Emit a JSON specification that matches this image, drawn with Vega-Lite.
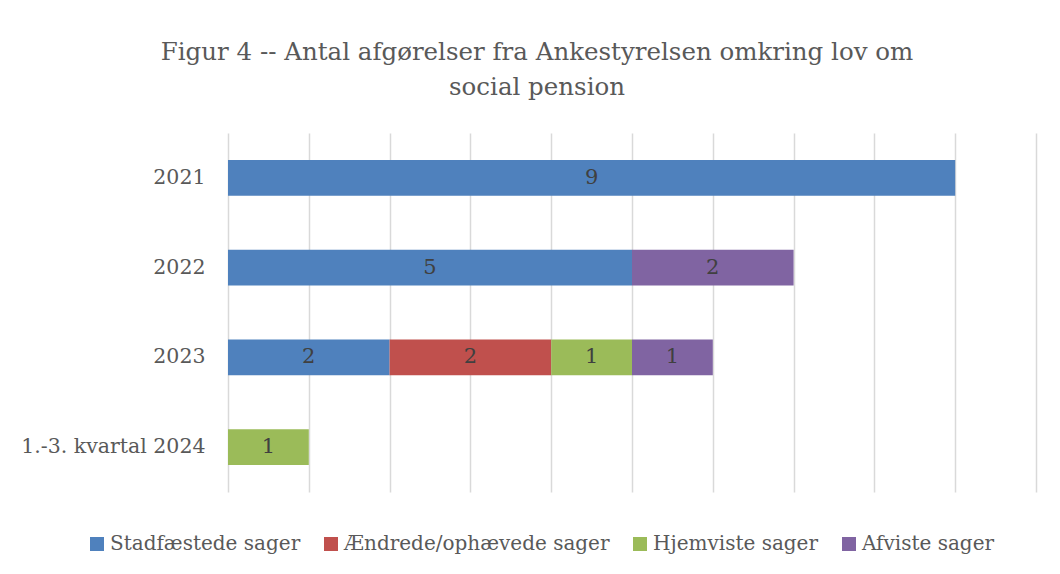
{
  "$schema": "https://vega.github.io/schema/vega-lite/v6.json",
  "autosize": {"type": "none"},
  "width": 808,
  "height": 359,
  "padding": {"left": 228, "top": 133, "right": 24, "bottom": 82},
  "background": "white",
  "title": {
    "text": ["Figur 4 -- Antal afgørelser fra Ankestyrelsen omkring lov om", "social pension"],
    "font": "DejaVu Serif",
    "fontSize": 24.5,
    "fontWeight": "normal",
    "color": "#595959",
    "anchor": "middle",
    "frame": "group",
    "dx": -95,
    "offset": 33,
    "lineHeight": 35
  },
  "data": {
    "values": [
      {"year": "2021", "category": "Stadfæstede sager", "ord": 1, "value": 9},
      {"year": "2022", "category": "Stadfæstede sager", "ord": 1, "value": 5},
      {"year": "2022", "category": "Afviste sager", "ord": 4, "value": 2},
      {"year": "2023", "category": "Stadfæstede sager", "ord": 1, "value": 2},
      {"year": "2023", "category": "Ændrede/ophævede sager", "ord": 2, "value": 2},
      {"year": "2023", "category": "Hjemviste sager", "ord": 3, "value": 1},
      {"year": "2023", "category": "Afviste sager", "ord": 4, "value": 1},
      {"year": "1.-3. kvartal 2024", "category": "Hjemviste sager", "ord": 3, "value": 1}
    ]
  },
  "encoding": {
    "y": {
      "field": "year",
      "type": "nominal",
      "sort": ["2021", "2022", "2023", "1.-3. kvartal 2024"],
      "scale": {"paddingInner": 0.6, "paddingOuter": 0.3},
      "axis": {
        "title": null,
        "domain": false,
        "ticks": false,
        "labelFont": "DejaVu Serif",
        "labelFontSize": 20.5,
        "labelColor": "#595959",
        "labelPadding": 23,
        "labelLimit": 400
      }
    }
  },
  "layer": [
    {
      "mark": {"type": "bar"},
      "encoding": {
        "x": {
          "field": "value",
          "type": "quantitative",
          "aggregate": "sum",
          "stack": "zero",
          "scale": {"domain": [0, 10], "nice": false},
          "axis": {
            "title": null,
            "labels": false,
            "ticks": false,
            "domain": false,
            "grid": true,
            "gridColor": "#d9d9d9",
            "gridWidth": 1.5,
            "labelOverlap": false,
            "values": [0, 1, 2, 3, 4, 5, 6, 7, 8, 9, 10]
          }
        },
        "color": {
          "field": "category",
          "type": "nominal",
          "scale": {
            "domain": ["Stadfæstede sager", "Ændrede/ophævede sager", "Hjemviste sager", "Afviste sager"],
            "range": ["#4f81bd", "#c0504d", "#9bbb59", "#8064a2"]
          },
          "legend": {
            "title": null,
            "orient": "none",
            "direction": "horizontal",
            "legendX": -141,
            "legendY": 401,
            "symbolType": "square",
            "symbolSize": 196,
            "symbolStrokeWidth": 0,
            "symbolOpacity": 1,
            "labelFont": "DejaVu Serif",
            "labelFontSize": 20,
            "labelColor": "#595959",
            "labelOffset": 3,
            "columnPadding": 20,
            "labelLimit": 400
          }
        },
        "order": {"field": "ord", "type": "quantitative"}
      }
    },
    {
      "transform": [
        {"stack": "value", "groupby": ["year"], "sort": [{"field": "ord"}], "as": ["x0", "x1"]},
        {"fold": ["x0", "x1"], "as": ["edge", "pos"]}
      ],
      "mark": {"type": "text", "font": "DejaVu Serif", "fontSize": 21, "color": "#404040", "baseline": "middle", "align": "center"},
      "encoding": {
        "x": {"field": "pos", "type": "quantitative", "aggregate": "mean"},
        "detail": {"field": "category"},
        "text": {"field": "value", "type": "quantitative", "aggregate": "min"}
      }
    }
  ],
  "config": {
    "view": {"stroke": null}
  }
}
